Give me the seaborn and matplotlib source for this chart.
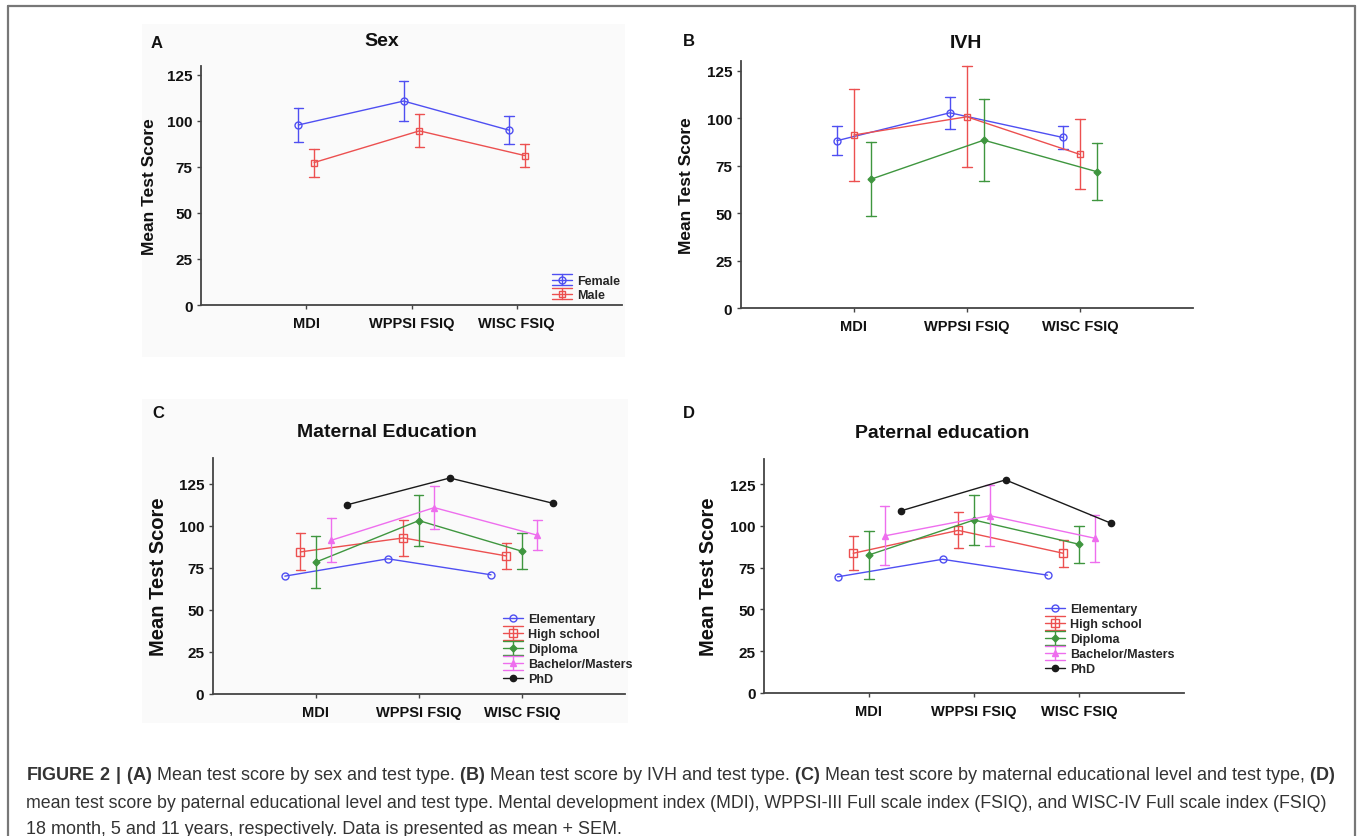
import numpy as np
import pandas as pd
import matplotlib
matplotlib.use("Agg")
import matplotlib.pyplot as plt
from matplotlib.lines import Line2D
from matplotlib.patches import Rectangle
from matplotlib.legend_handler import HandlerBase
import seaborn as sns

# ---------------- data ----------------
tests = ["MDI", "WPPSI FSIQ", "WISC FSIQ"]
y_ticks = [0, 25, 50, 75, 100, 125]

sex_groups = ["Female", "Male"]
female_mean = [97.8, 110.8, 95.0]
female_sem = [9.0, 10.8, 7.7]
male_mean = [77.4, 94.6, 81.2]
male_sem = [7.6, 9.0, 6.5]

ivh_groups = ["IVH group 1", "IVH group 2", "IVH group 3"]
ivh1_mean = [88.2, 102.9, 89.9]
ivh1_sem = [7.7, 8.5, 6.0]
ivh2_mean = [91.2, 100.8, 81.0]
ivh2_sem = [24.0, 26.5, 18.4]
ivh3_mean = [67.9, 88.5, 71.9]
ivh3_sem = [19.5, 21.7, 15.0]

edu_groups = ["Elementary", "High school", "Diploma", "Bachelor/Masters", "PhD"]
mat_elem_mean = [70.0, 80.3, 70.8]
mat_elem_sem = None
mat_high_mean = [84.4, 92.7, 82.0]
mat_high_sem = [11.0, 10.6, 7.5]
mat_dipl_mean = [78.3, 103.0, 84.8]
mat_dipl_sem = [15.5, 15.0, 10.6]
mat_bach_mean = [91.3, 110.7, 94.3]
mat_bach_sem = [13.0, 12.7, 9.0]
mat_phd_mean = [112.3, 128.3, 113.3]
mat_phd_sem = None

pat_elem_mean = [69.5, 80.0, 70.5]
pat_elem_sem = None
pat_high_mean = [83.6, 97.3, 83.6]
pat_high_sem = [10.3, 10.7, 8.0]
pat_dipl_mean = [82.6, 103.5, 89.0]
pat_dipl_sem = [14.4, 15.0, 11.2]
pat_bach_mean = [94.0, 106.1, 92.6]
pat_bach_sem = [17.6, 18.3, 14.0]
pat_phd_mean = [108.9, 127.5, 101.7]
pat_phd_sem = None

# ---------------- style ----------------
BLUE, RED, GREEN, MAGENTA, BLACK = "#4f4ff2", "#ec5050", "#3f963f", "#ee6eee", "#1a1a1a"
W, H = 1357, 837
sns.set_theme(style="ticks")
plt.rcParams["font.family"] = ["Liberation Sans", "DejaVu Sans"]
plt.rcParams["mathtext.fontset"] = "custom"
plt.rcParams["mathtext.rm"] = "Liberation Sans"
plt.rcParams["mathtext.bf"] = "Liberation Sans:bold"

fig = plt.figure(figsize=(W / 100, H / 100), dpi=100)
fig.patch.set_facecolor("white")

# outer frame (left, top, right)
for xs, ys in [([8, 8], [837, 7]), ([8, 1355], [7, 7]), ([1355, 1355], [7, 837])]:
    fig.add_artist(Line2D([x / W for x in xs], [1 - y / H for y in ys],
                          transform=fig.transFigure, color="#777777", lw=1.6))
# faint panel backgrounds
for (l, t, r, b) in [(142, 25, 625, 358), (142, 400, 628, 724)]:
    fig.add_artist(Rectangle((l / W, 1 - b / H), (r - l) / W, (b - t) / H,
                             transform=fig.transFigure, facecolor="#fafafa",
                             edgecolor="none", zorder=-5))


def px_axes(left, top, right, bottom):
    return fig.add_axes([left / W, 1 - bottom / H, (right - left) / W, (bottom - top) / H])


def sem_range(v):
    v = np.asarray(v)
    if len(v) > 1:
        return (v.min(), v.max())
    return (np.nan, np.nan)


class HandlerWhisker(HandlerBase):
    def __init__(self, has_err, half=5.0, **kw):
        super().__init__(**kw)
        self.has_err = has_err
        self.half = half

    def create_artists(self, legend, orig_handle, xdescent, ydescent, width,
                       height, fontsize, trans):
        x0 = -xdescent
        x1 = x0 + width
        xc = (x0 + x1) / 2
        yc = height / 2 - ydescent
        c = orig_handle.get_color()
        lw = orig_handle.get_linewidth()
        arts = [Line2D([x0, x1], [yc, yc], color=c, lw=lw)]
        if self.has_err:
            h = self.half
            arts += [Line2D([x0, x1], [yc + h, yc + h], color=c, lw=lw),
                     Line2D([x0, x1], [yc - h, yc - h], color=c, lw=lw),
                     Line2D([xc, xc], [yc - h, yc + h], color=c, lw=lw)]
        arts.append(Line2D([xc], [yc], ls="none", marker=orig_handle.get_marker(),
                           ms=orig_handle.get_markersize(),
                           mfc=orig_handle.get_markerfacecolor(), mec=c,
                           mew=orig_handle.get_markeredgewidth()))
        for a in arts:
            a.set_transform(trans)
        return arts


def panel(ax, groups, means, sems, colors, markers, hollow, sizes, ymax,
          ylab_size, ylab_x, legend_at=None, legend_half=5.0, legend_space=0.25):
    rows = []
    for g, m_list, s_list in zip(groups, means, sems):
        for i, (t, m) in enumerate(zip(tests, m_list)):
            if s_list is None:
                rows.append((g, t, m))
            else:
                rows.append((g, t, m - s_list[i]))
                rows.append((g, t, m + s_list[i]))
    df = pd.DataFrame(rows, columns=["group", "test", "score"])
    sns.pointplot(data=df, x="test", y="score", hue="group", order=tests,
                  hue_order=groups, palette=dict(zip(groups, colors)),
                  markers=markers, dodge=0.15 * (len(groups) - 1),
                  errorbar=sem_range, capsize=0.09,
                  err_kws={"linewidth": 1.0}, legend=False,
                  linewidth=1.0, markersize=5, markeredgewidth=1.0, ax=ax)
    main = [l for l in ax.lines if l.get_marker() not in ("None", None, "")]
    for l, hol, sz in zip(main, hollow, sizes):
        l.set_markerfacecolor("none" if hol else l.get_color())
        l.set_markersize(sz)
    ax.set_xlim(-1, 3)
    ax.set_ylim(0, ymax)
    ax.set_yticks(y_ticks)
    ax.set_xlabel("")
    ax.set_ylabel("Mean Test Score", fontsize=ylab_size, fontweight="bold",
                  color="#111111")
    pos = ax.get_position()
    ax.yaxis.set_label_coords(ylab_x / W, pos.y0 + pos.height / 2,
                              transform=fig.transFigure)
    ax.set_facecolor("none")
    sns.despine(ax=ax)
    for s in ("left", "bottom"):
        ax.spines[s].set_color("#444444")
        ax.spines[s].set_linewidth(1.3)
    ax.tick_params(axis="both", length=3, width=1, color="#444444", pad=3)
    ax.tick_params(axis="x", labelsize=10.5, pad=5)
    ax.tick_params(axis="y", labelsize=11)
    for lbl in ax.get_xticklabels() + ax.get_yticklabels():
        lbl.set_fontweight("bold")
        lbl.set_color("#111111")
    ax.grid(False)
    if legend_at is not None:
        handles, hm = [], {}
        for g, c, mk, hol, sz, s_list in zip(groups, colors, markers, hollow, sizes, sems):
            h = Line2D([], [], color=c, lw=1.0, marker=mk, ms=sz, mew=1.0,
                       mfc="none" if hol else c)
            handles.append(h)
            hm[h] = HandlerWhisker(s_list is not None, half=legend_half)
        ax.legend(handles, groups, handler_map=hm, loc="upper left",
                  bbox_to_anchor=(legend_at[0] / W, 1 - legend_at[1] / H),
                  bbox_transform=fig.transFigure, frameon=False,
                  prop={"weight": "bold", "size": 9}, handlelength=1.6,
                  handletextpad=0.4, labelspacing=legend_space, borderpad=0,
                  borderaxespad=0)


# Panel A
axA = px_axes(201, 66.7, 622, 306)
panel(axA, sex_groups, [female_mean, male_mean], [female_sem, male_sem],
      [BLUE, RED], ["o", "s"], [True, True], [5, 5], 130, 12.5, 157,
      legend_at=(552, 276), legend_half=4.0, legend_space=0.15)
# Panel B
axB = px_axes(740.7, 62.3, 1193, 309.3)
panel(axB, ivh_groups, [ivh1_mean, ivh2_mean, ivh3_mean],
      [ivh1_sem, ivh2_sem, ivh3_sem], [BLUE, RED, GREEN], ["o", "s", "D"],
      [True, True, False], [5, 5, 3.5], 130, 12.5, 694)
# Panel C
axC = px_axes(212.7, 459.3, 625, 695)
panel(axC, edu_groups,
      [mat_elem_mean, mat_high_mean, mat_dipl_mean, mat_bach_mean, mat_phd_mean],
      [mat_elem_sem, mat_high_sem, mat_dipl_sem, mat_bach_sem, mat_phd_sem],
      [BLUE, RED, GREEN, MAGENTA, BLACK], ["o", "s", "D", "^", "o"],
      [True, True, False, False, False], [5, 6, 3.5, 4.5, 4.5], 140, 14.5, 168,
      legend_at=(503, 614), legend_half=5.0)
# Panel D
axD = px_axes(764, 460, 1184, 694)
panel(axD, edu_groups,
      [pat_elem_mean, pat_high_mean, pat_dipl_mean, pat_bach_mean, pat_phd_mean],
      [pat_elem_sem, pat_high_sem, pat_dipl_sem, pat_bach_sem, pat_phd_sem],
      [BLUE, RED, GREEN, MAGENTA, BLACK], ["o", "s", "D", "^", "o"],
      [True, True, False, False, False], [5, 6, 3.5, 4.5, 4.5], 140, 14.5, 718,
      legend_at=(1045, 604), legend_half=5.0)

# letters and titles
for (x, y, s) in [(157, 43, "A"), (689, 41, "B"), (158, 414, "C"), (689, 414, "D")]:
    fig.text(x / W, 1 - y / H, s, ha="center", va="center", fontsize=12,
             fontweight="bold", color="#111111")
for (x, y, s) in [(382, 41, "Sex"), (966, 44, "IVH"),
                  (387, 433, "Maternal Education"), (942, 434, "Paternal education")]:
    fig.text(x / W, 1 - y / H, s, ha="center", va="center", fontsize=14,
             fontweight="bold", color="#111111")

# caption
cap = [
    r"$\mathbf{FIGURE\ 2\ |\ (A)}$ Mean test score by sex and test type. "
    r"$\mathbf{(B)}$ Mean test score by IVH and test type. "
    r"$\mathbf{(C)}$ Mean test score by maternal educational level and test type, $\mathbf{(D)}$",
    "mean test score by paternal educational level and test type. Mental development index (MDI), "
    "WPPSI-III Full scale index (FSIQ), and WISC-IV Full scale index (FSIQ)",
    "18 month, 5 and 11 years, respectively. Data is presented as mean + SEM.",
]
for y, s, fs in zip([780, 808, 834], cap, [13, 12.8, 13]):
    fig.text(26 / W, 1 - y / H, s, ha="left", va="baseline", fontsize=fs,
             color="#333333")

fig.savefig("out.png", dpi=100)
